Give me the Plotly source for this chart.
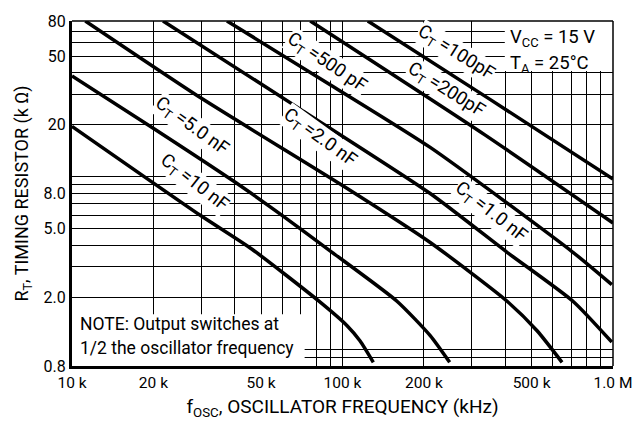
import plotly.graph_objects as go

# Frequency in kHz, timing resistor in kOhm
f_100pf = [124, 351, 1000]
r_100pf = [80, 28.1, 9.7]
f_200pf = [76, 336, 1000]
r_200pf = [80, 17.5, 5.4]
f_500pf = [37.4, 90, 211, 711, 990]
r_500pf = [80, 34.2, 14.8, 3.65, 2.37]
f_1nf = [21.7, 70, 211, 406, 711, 990]
r_1nf = [80, 24.6, 8.0, 3.65, 1.9, 1.1]
f_2nf = [11.2, 30.2, 100, 211, 406, 524, 648]
r_2nf = [80, 28.4, 8.9, 4.16, 1.9, 1.28, 0.84]
f_5nf = [10, 19.9, 39.4, 60.3, 91.5, 159, 211, 249]
r_5nf = [38.4, 19.2, 9.48, 5.92, 3.65, 1.9, 1.2, 0.84]
f_10nf = [10, 29.7, 46.3, 81.2, 104, 116, 130]
r_10nf = [19.6, 6.0, 3.8, 1.92, 1.37, 1.12, 0.84]

curve_labels = ["C<sub>T</sub> =100pF", "C<sub>T</sub> =200pF", "C<sub>T</sub> =500 pF",
                "C<sub>T</sub> =1.0 nF", "C<sub>T</sub> =2.0 nF", "C<sub>T</sub> =5.0 nF",
                "C<sub>T</sub> =10 nF"]

x_grid = [10, 20, 30, 40, 50, 60, 70, 80, 90, 100, 200, 300, 400, 500, 600, 700, 800, 900, 1000]
x_labels = {10: "10 k", 20: "20 k", 50: "50 k", 100: "100 k", 200: "200 k", 500: "500 k", 1000: "1.0 M"}
y_grid = [0.8, 0.9, 1, 2, 3, 4, 5, 6, 7, 8, 9, 10, 20, 30, 40, 50, 60, 70, 80]
y_labels = {0.8: "0.8", 2: "2.0", 5: "5.0", 8: "8.0", 20: "20", 50: "50", 80: "80"}

FONT = "Roboto, Liberation Sans, sans-serif"

fig = go.Figure()
series = [(f_100pf, r_100pf), (f_200pf, r_200pf), (f_500pf, r_500pf), (f_1nf, r_1nf),
          (f_2nf, r_2nf), (f_5nf, r_5nf), (f_10nf, r_10nf)]
for (fx, ry), name in zip(series, curve_labels):
    fig.add_trace(go.Scatter(x=fx, y=ry, mode="lines", name=name,
                             line=dict(color="black", width=3.5, shape="spline", smoothing=0.6),
                             showlegend=False, hoverinfo="skip"))

# label centres (paper coords) and angles
label_pos = [(0.710, 0.908, 32), (0.691, 0.800, 32), (0.471, 0.877, 34), (0.773, 0.445, 38),
             (0.458, 0.660, 36), (0.220, 0.695, 36), (0.226, 0.530, 38)]
for txt, (px, py, ang) in zip(curve_labels, label_pos):
    fig.add_annotation(x=px, y=py, xref="paper", yref="paper", text=txt, showarrow=False,
                       xanchor="center", yanchor="middle",
                       textangle=ang, bgcolor="white", borderpad=0,
                       font=dict(family=FONT, size=18.5, color="black"))

shapes = [
    dict(type="rect", xref="paper", yref="paper", x0=0, x1=0.43, y0=0, y1=0.15,
         fillcolor="white", line=dict(width=0), layer="above"),
    dict(type="rect", xref="paper", yref="paper", x0=0.80, x1=1, y0=0.855, y1=1,
         fillcolor="white", line=dict(width=0), layer="above"),
    dict(type="line", xref="paper", yref="paper", x0=0, x1=1, y0=1, y1=1,
         line=dict(color="black", width=1.5), layer="above"),
    dict(type="line", xref="paper", yref="paper", x0=1, x1=1, y0=0, y1=1,
         line=dict(color="black", width=1.5), layer="above"),
]
fig.update_layout(shapes=shapes)

note_lines = ["NOTE: Output switches at", "1/2 the oscillator frequency"]
for txt, py in zip(note_lines, [0.122, 0.051]):
    fig.add_annotation(x=0.011, y=py, xref="paper", yref="paper", xanchor="left", yanchor="middle",
                       align="left", showarrow=False, text=txt,
                       font=dict(family=FONT, size=17.5, color="black"))
cond_lines = ["V<sub>CC</sub> = 15 V", "T<sub>A</sub> = 25°C"]
for txt, py in zip(cond_lines, [0.950, 0.876]):
    fig.add_annotation(x=0.805, y=py, xref="paper", yref="paper", xanchor="left", yanchor="middle",
                       align="left", showarrow=False, text=txt,
                       font=dict(family=FONT, size=18.5, color="black"))

fig.update_xaxes(type="log", range=[1, 3], tickvals=x_grid,
                 ticktext=[x_labels.get(v, "") for v in x_grid],
                 showgrid=True, gridcolor="black", gridwidth=1, ticks="",
                 showline=True, linecolor="black", linewidth=3, zeroline=False,
                 ticklabeloverflow="allow", automargin=False,
                 tickfont=dict(family=FONT, size=15.5, color="black"),
                 title=dict(text="f<sub>OSC</sub>, OSCILLATOR FREQUENCY (kHz)", standoff=10,
                            font=dict(family=FONT, size=19, color="black")))
fig.update_yaxes(type="log", range=[-0.09691, 1.90309], tickvals=y_grid,
                 ticktext=[y_labels.get(v, "") for v in y_grid],
                 showgrid=True, gridcolor="black", gridwidth=1, ticks="",
                 showline=True, linecolor="black", linewidth=3, zeroline=False,
                 tickfont=dict(family=FONT, size=16, color="black"),
                 title=dict(text="R<sub>T</sub>, TIMING RESISTOR (k Ω)", standoff=11,
                            font=dict(family=FONT, size=18, color="black")))

fig.update_layout(width=636, height=430, margin=dict(l=72, r=23, t=14, b=64),
                  plot_bgcolor="white", paper_bgcolor="white",
                  font=dict(family=FONT, color="black"))

fig.write_html("out.html", config={"displayModeBar": False},
               post_script="document.body.style.margin='0';")
